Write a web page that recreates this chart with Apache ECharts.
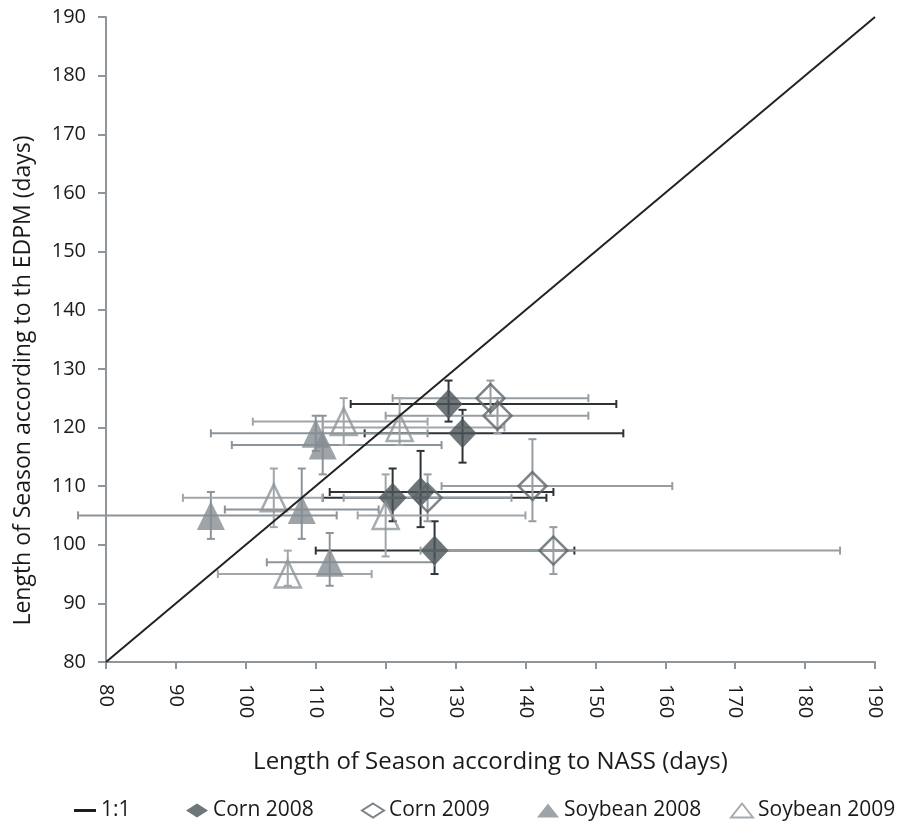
<!DOCTYPE html>
<html>
<head>
<meta charset="utf-8">
<script src="https://cdn.jsdelivr.net/npm/echarts@6/dist/echarts.min.js"></script>
<style>
html,body{margin:0;padding:0;background:#fff;}
#chart{width:910px;height:824px;}
</style>
</head>
<body>
<div id="chart"></div>
<script>
// ---- data ----
const oneToOne = [[80, 80], [190, 190]];

const corn2008X     = [129, 131, 121, 125, 127];
const corn2008Y     = [124, 119, 108, 109, 99];
const corn2008XLow  = [115, 117, 111, 112, 110];
const corn2008XHigh = [153, 154, 143, 144, 147];
const corn2008YLow  = [121, 114, 104, 103, 95];
const corn2008YHigh = [128, 123, 113, 116, 104];

const corn2009X     = [135, 136, 141, 126, 144];
const corn2009Y     = [125, 122, 110, 108, 99];
const corn2009XLow  = [121, 120, 128, 114, 125];
const corn2009XHigh = [149, 149, 161, 138, 185];
const corn2009YLow  = [122, 119, 104, 104, 95];
const corn2009YHigh = [128, 125, 118, 112, 103];

const soy2008X     = [95, 108, 110, 111, 112];
const soy2008Y     = [105, 106, 119, 117, 97];
const soy2008XLow  = [76, 97, 95, 98, 103];
const soy2008XHigh = [113, 119, 126, 128, 127];
const soy2008YLow  = [101, 101, 116, 112, 93];
const soy2008YHigh = [109, 113, 122, 122, 102];

const soy2009X     = [114, 122, 104, 120, 106];
const soy2009Y     = [121, 120, 108, 105, 95];
const soy2009XLow  = [101, 111, 91, 116, 96];
const soy2009XHigh = [126, 137, 111, 140, 118];
const soy2009YLow  = [117, 117, 103, 98, 93];
const soy2009YHigh = [125, 125, 113, 112, 99];

const axisMin = 80, axisMax = 190, axisStep = 10;
const xTitle = 'Length of Season according to NASS (days)';
const yTitle = 'Length of Season according to th EDPM (days)';
const legendNames = ['1:1', 'Corn 2008', 'Corn 2009', 'Soybean 2008', 'Soybean 2009'];

// ---- helpers ----
const FONT = '"Open Sans", "DejaVu Sans", sans-serif';
const AXIS_COLOR = '#8f969b';
const TEXT_COLOR = '#1a1a1a';

function pts(xs, ys) { return xs.map((x, i) => [x, ys[i]]); }

function errSeries(id, xs, ys, xl, xh, yl, yh, color) {
  return {
    type: 'custom',
    id: id,
    name: id,
    clip: false,
    silent: true,
    encode: { x: [0, 2, 3], y: [1, 4, 5] },
    data: xs.map((x, i) => [x, ys[i], xl[i], xh[i], yl[i], yh[i]]),
    renderItem: function (params, api) {
      const l = api.coord([api.value(2), api.value(1)]);
      const r = api.coord([api.value(3), api.value(1)]);
      const b = api.coord([api.value(0), api.value(4)]);
      const t = api.coord([api.value(0), api.value(5)]);
      const cap = 4;
      const st = { stroke: color, lineWidth: 2 };
      const ln = (x1, y1, x2, y2) => ({ type: 'line', shape: { x1, y1, x2, y2 }, style: st });
      return {
        type: 'group',
        children: [
          ln(l[0], l[1], r[0], r[1]),
          ln(l[0], l[1] - cap, l[0], l[1] + cap),
          ln(r[0], r[1] - cap, r[0], r[1] + cap),
          ln(b[0], b[1], t[0], t[1]),
          ln(b[0] - cap, b[1], b[0] + cap, b[1]),
          ln(t[0] - cap, t[1], t[0] + cap, t[1])
        ]
      };
    }
  };
}

function scatter(name, data, symbol, size, style) {
  return {
    type: 'scatter',
    name: name,
    data: data,
    symbol: symbol,
    symbolSize: size,
    itemStyle: style,
    clip: false,
    emphasis: { disabled: true }
  };
}

const legendText = { fontFamily: FONT, fontSize: 21, color: TEXT_COLOR };
function legendAt(item, left, width, height) {
  return {
    data: [item],
    left: left,
    top: 795,
    itemWidth: width,
    itemHeight: height,
    itemGap: 0,
    selectedMode: false,
    textStyle: legendText
  };
}

const chart = echarts.init(document.getElementById('chart'), null, { renderer: 'canvas' });
chart.setOption({
  animation: false,
  backgroundColor: '#ffffff',
  grid: { left: 106, right: 35, top: 17, bottom: 162, outerBoundsMode: 'none', containLabel: false },
  legend: [
    legendAt({ name: legendNames[0], icon: 'rect', itemStyle: { color: '#1e1e1e' } }, 69, 22, 3),
    legendAt(legendNames[1], 181, 22, 14),
    legendAt(legendNames[2], 356, 22, 14),
    legendAt(legendNames[3], 532, 22, 14),
    legendAt(legendNames[4], 725, 22, 14)
  ],
  xAxis: {
    type: 'value',
    min: axisMin, max: axisMax, interval: axisStep,
    name: xTitle,
    nameLocation: 'middle',
    nameGap: 88,
    nameTextStyle: { fontFamily: FONT, fontSize: 24, color: TEXT_COLOR },
    axisLine: { lineStyle: { color: AXIS_COLOR, width: 2 } },
    axisTick: { show: true, inside: false, length: 7, lineStyle: { color: AXIS_COLOR, width: 2 } },
    axisLabel: { rotate: -90, margin: 22, fontFamily: FONT, fontSize: 20, color: TEXT_COLOR },
    splitLine: { show: false }
  },
  yAxis: {
    type: 'value',
    min: axisMin, max: axisMax, interval: axisStep,
    name: yTitle,
    nameLocation: 'middle',
    nameGap: 71,
    nameRotate: 90,
    nameTextStyle: { fontFamily: FONT, fontSize: 23, color: TEXT_COLOR, padding: [0, 82, 0, 0] },
    axisLine: { lineStyle: { color: AXIS_COLOR, width: 2 } },
    axisTick: { show: true, inside: false, length: 8, lineStyle: { color: AXIS_COLOR, width: 2 } },
    axisLabel: { margin: 20, fontFamily: FONT, fontSize: 20, color: TEXT_COLOR },
    splitLine: { show: false }
  },
  series: [
    {
      type: 'line',
      name: '1:1',
      data: oneToOne,
      symbol: 'none',
      lineStyle: { color: '#222222', width: 2 },
      itemStyle: { color: '#222222' },
      emphasis: { disabled: true }
    },
    errSeries('e1', corn2008X, corn2008Y, corn2008XLow, corn2008XHigh, corn2008YLow, corn2008YHigh, '#2e3336'),
    scatter('Corn 2008', pts(corn2008X, corn2008Y), 'diamond', [28, 30], { color: '#4b5458' }),
    errSeries('e2', corn2009X, corn2009Y, corn2009XLow, corn2009XHigh, corn2009YLow, corn2009YHigh, '#979ea3'),
    scatter('Corn 2009', pts(corn2009X, corn2009Y), 'diamond', [28, 28], { color: 'rgba(255,255,255,0)', borderColor: '#5c6569', borderWidth: 2.5 }),
    errSeries('e3', soy2008X, soy2008Y, soy2008XLow, soy2008XHigh, soy2008YLow, soy2008YHigh, '#8d9499'),
    scatter('Soybean 2008', pts(soy2008X, soy2008Y), 'triangle', [28, 29], { color: '#868d92' }),
    errSeries('e4', soy2009X, soy2009Y, soy2009XLow, soy2009XHigh, soy2009YLow, soy2009YHigh, '#a0a6aa'),
    scatter('Soybean 2009', pts(soy2009X, soy2009Y), 'triangle', [26, 27], { color: 'rgba(255,255,255,0)', borderColor: '#8f969b', borderWidth: 2.5 })
  ]
});
</script>
</body>
</html>
